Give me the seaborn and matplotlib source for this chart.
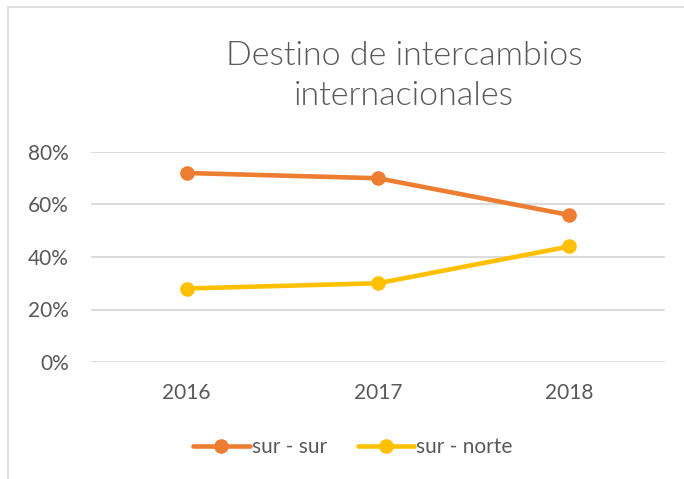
import pandas as pd
import seaborn as sns
from matplotlib import pyplot as plt
from matplotlib.lines import Line2D
from matplotlib.patches import Rectangle
from matplotlib.ticker import PercentFormatter

years = ["2016", "2017", "2018"]
series_names = ["sur - sur", "sur - norte"]
sur_sur = [0.72, 0.70, 0.56]
sur_norte = [0.28, 0.30, 0.44]
colors = ["#ED7D31", "#FFC000"]

df = pd.DataFrame({
    "year": years * 2,
    "value": sur_sur + sur_norte,
    "serie": [series_names[0]] * 3 + [series_names[1]] * 3,
})

sns.set_style("white")
plt.rcParams["font.family"] = ["Lato", "DejaVu Sans"]
text_col = "#595959"

fig = plt.figure(figsize=(6.84, 4.79), dpi=100)
ax = fig.add_axes([91 / 684, 1 - 362 / 479, (665 - 91) / 684, 210 / 479])

sns.lineplot(
    data=df,
    x="year",
    y="value",
    hue="serie",
    palette=colors,
    marker="o",
    markersize=10.5,
    markeredgewidth=0,
    linewidth=3.3,
    legend=False,
    ax=ax,
)

ax.set_xlim(-0.5, 2.5)
ax.set_ylim(0, 0.8)
ax.set_yticks([0, 0.2, 0.4, 0.6, 0.8])
ax.yaxis.set_major_formatter(PercentFormatter(1.0, decimals=0))
ax.grid(axis="y", color="#D9D9D9", linewidth=1.3)
ax.set_axisbelow(True)
for s in ax.spines.values():
    s.set_visible(False)
ax.set_xlabel("")
ax.set_ylabel("")
ax.tick_params(axis="both", length=0, labelsize=15, labelcolor=text_col)
ax.tick_params(axis="y", pad=16)
ax.tick_params(axis="x", pad=15)

# titulo en peso ligero, como el original
fig.text(0.591, 1 - 76 / 479, "Destino de intercambios\ninternacionales",
         ha="center", va="center", fontsize=24.5, fontweight=300,
         color=text_col, linespacing=1.45)

handles = [Line2D([], [], color=c, marker="o", markersize=10.5, markeredgewidth=0,
                  linewidth=3.3) for c in colors]
fig.legend(handles, series_names, loc="center", bbox_to_anchor=(353 / 684, 1 - 447 / 479),
           ncol=2, frameon=False, fontsize=15, labelcolor=text_col,
           handlelength=2.7, handletextpad=0.1, columnspacing=1.5)

fig.add_artist(Rectangle((8 / 684, -0.1), 1.2, 1.1 - 7 / 479, transform=fig.transFigure,
                         fill=False, edgecolor="#D9D9D9", linewidth=1.2))

fig.savefig("out.png", dpi=100)
